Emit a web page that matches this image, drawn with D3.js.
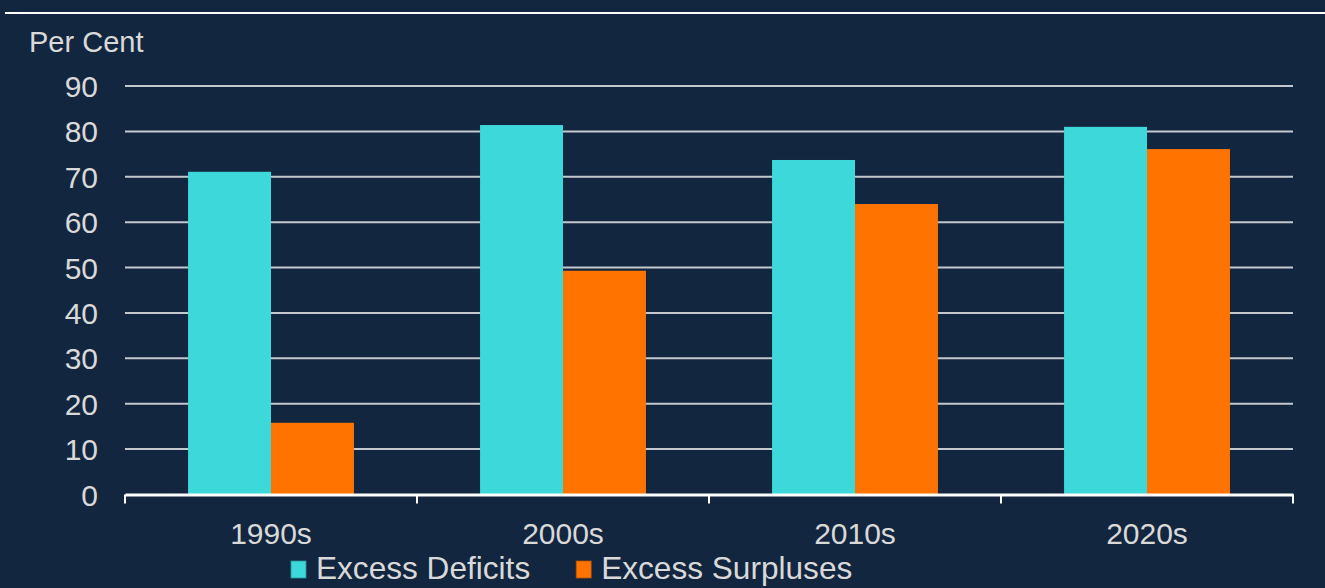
<!DOCTYPE html>
<html>
  <head>
    <meta charset="utf-8">
    <title>Excess deficits and surpluses</title>
    <script src="https://d3js.org/d3.v7.min.js"></script>
    <style>
      body { margin: 0; background: #13263f; }
      text { font-family: "Liberation Sans", Arial, sans-serif; fill: #d9d9d9; }
      .grid line { stroke: #c3c7ce; stroke-width: 2px; }
    </style>
  </head>
  <body>
    <script>

      var width = 1325;
      var height = 588;

      // data
      var decades = ["1990s", "2000s", "2010s", "2020s"];
      var seriesNames = ["Excess Deficits", "Excess Surpluses"];
      var deficits = [71.1, 81.4, 73.7, 81.0];
      var surpluses = [15.8, 49.3, 64.0, 76.1];
      var yTicks = [0, 10, 20, 30, 40, 50, 60, 70, 80, 90];
      var colors = ["#3cd8da", "#ff7400"];

      var margin = {left: 125, right: 32, top: 86, bottom: 93};

      var svg = d3.select("body").append("svg")
        .attr("width", width)
        .attr("height", height);

      svg.append("rect")
        .attr("width", width).attr("height", height)
        .attr("fill", "#13263f");

      // thin white rule at the top
      svg.append("line")
        .attr("x1", 5).attr("x2", width)
        .attr("y1", 13).attr("y2", 13)
        .attr("stroke", "#ffffff").attr("stroke-width", 2);

      var x0 = d3.scaleBand().domain(decades)
        .range([margin.left, width - margin.right]);
      var x1 = d3.scaleBand().domain(seriesNames)
        .range([0, x0.bandwidth()])
        .paddingInner(0).paddingOuter(0.76);
      var y = d3.scaleLinear().domain([0, 90])
        .range([height - margin.bottom - 0.5, margin.top]);

      // gridlines
      svg.append("g").attr("class", "grid")
        .selectAll("line").data(yTicks.slice(1)).enter().append("line")
        .attr("x1", margin.left).attr("x2", width - margin.right)
        .attr("y1", function (d){ return y(d); })
        .attr("y2", function (d){ return y(d); });

      // y labels
      svg.append("g").selectAll("text").data(yTicks).enter().append("text")
        .attr("x", 98)
        .attr("y", function (d){ return y(d) + 11; })
        .attr("text-anchor", "end")
        .style("font-size", "30px")
        .text(function (d){ return d; });

      svg.append("text")
        .attr("x", 29).attr("y", 52)
        .style("font-size", "29px")
        .text("Per Cent");

      // bars
      var rows = decades.map(function (d, i){
        return {decade: d, values: [deficits[i], surpluses[i]]};
      });

      var groups = svg.append("g").selectAll("g").data(rows).enter().append("g")
        .attr("transform", function (d){ return "translate(" + x0(d.decade) + ",0)"; });

      groups.selectAll("rect")
        .data(function (d){ return d.values.map(function (v, j){ return {name: seriesNames[j], value: v, j: j}; }); })
        .enter().append("rect")
        .attr("x", function (d){ return x1(d.name); })
        .attr("width", x1.bandwidth())
        .attr("y", function (d){ return y(d.value); })
        .attr("height", function (d){ return y(0) - y(d.value); })
        .attr("fill", function (d){ return colors[d.j]; });

      // x axis with category separators
      var xAxis = d3.axisBottom(x0).tickSize(0).tickSizeOuter(0).tickFormat("");
      var axisG = svg.append("g")
        .attr("transform", "translate(0," + y(0) + ")")
        .call(xAxis);
      axisG.select(".domain").attr("stroke", "#ffffff").attr("stroke-width", 3);

      var seps = decades.map(function (d){ return x0(d); }).concat([x0.range()[1]]);
      axisG.selectAll(".sep").data(seps).enter().append("line")
        .attr("class", "sep")
        .attr("x1", function (d){ return d; }).attr("x2", function (d){ return d; })
        .attr("y1", 0).attr("y2", 9)
        .attr("stroke", "#ffffff").attr("stroke-width", 2);

      svg.append("g").selectAll("text").data(decades).enter().append("text")
        .attr("x", function (d){ return x0(d) + x0.bandwidth() / 2; })
        .attr("y", 544)
        .attr("text-anchor", "middle")
        .style("font-size", "30px")
        .text(function (d){ return d; });

      // legend
      var legend = svg.append("g");
      var lx = 291;
      seriesNames.forEach(function (name, i){
        legend.append("rect")
          .attr("x", lx).attr("y", 561)
          .attr("width", 15).attr("height", 17)
          .attr("fill", colors[i])
          .attr("stroke", d3.color(colors[i]).darker(1)).attr("stroke-width", 0.8);
        var t = legend.append("text")
          .attr("x", lx + 25).attr("y", 579)
          .style("font-size", "31.6px")
          .text(name);
        lx = lx + 25 + t.node().getComputedTextLength() + 46;
      });

    </script>
  </body>
</html>
